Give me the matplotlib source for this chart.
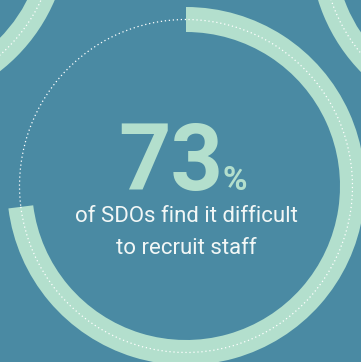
import numpy as np
import matplotlib
matplotlib.use('Agg')
import matplotlib.pyplot as plt
from matplotlib.patches import Wedge, Arc

# chart values
pct = 73
headline = '73'
caption = ['of SDOs find it difficult', 'to recruit staff']

bg = '#4a8aa3'
mint = '#b3dfcd'
W, H = 361, 362

fig = plt.figure(figsize=(W / 100, H / 100), dpi=100)
ax = fig.add_axes([0, 0, 1, 1])
ax.set_xlim(0, W)
ax.set_ylim(0, H)
ax.set_aspect('auto')
ax.axis('off')
fig.patch.set_facecolor(bg)

r_in, r_out = 154, 179
r_mid = (r_in + r_out) / 2
dots = dict(color='white', lw=0.9, linestyle=(0, (1, 2.2)))

def ring(cx, cy, t1, t2):
	ax.add_patch(Wedge((cx, cy), r_out, t1, t2, width=r_out - r_in, color=mint, lw=0))
	ax.add_patch(Arc((cx, cy), 2 * r_mid, 2 * r_mid, theta1=t1, theta2=t2, **dots))

# decorative rings in the corners
ring(-110, H + 70, 0, 360)
ring(489, H + 53, 0, 360)

# main ring: pct share clockwise from the top
cx, cy = 186, H - 186
end = 90 - pct / 100 * 360
ring(cx, cy, end, 90)
ax.add_patch(Arc((cx, cy), 2 * r_mid, 2 * r_mid, theta1=90, theta2=end + 360, **dots))

ax.text(171, H - 190, headline, color=mint, fontsize=66, fontweight='bold',
	family='Roboto', ha='center', va='baseline')
ax.text(222, H - 190, '%', color=mint, fontsize=24, fontweight='bold',
	family='Roboto', ha='left', va='baseline')
ax.text(cx, H - 222, caption[0], color='#f2f7f6', fontsize=16, family='Roboto',
	ha='center', va='baseline')
ax.text(cx, H - 254, caption[1], color='#f2f7f6', fontsize=16, family='Roboto',
	ha='center', va='baseline')

plt.savefig('out.png', dpi=100, facecolor=bg)
